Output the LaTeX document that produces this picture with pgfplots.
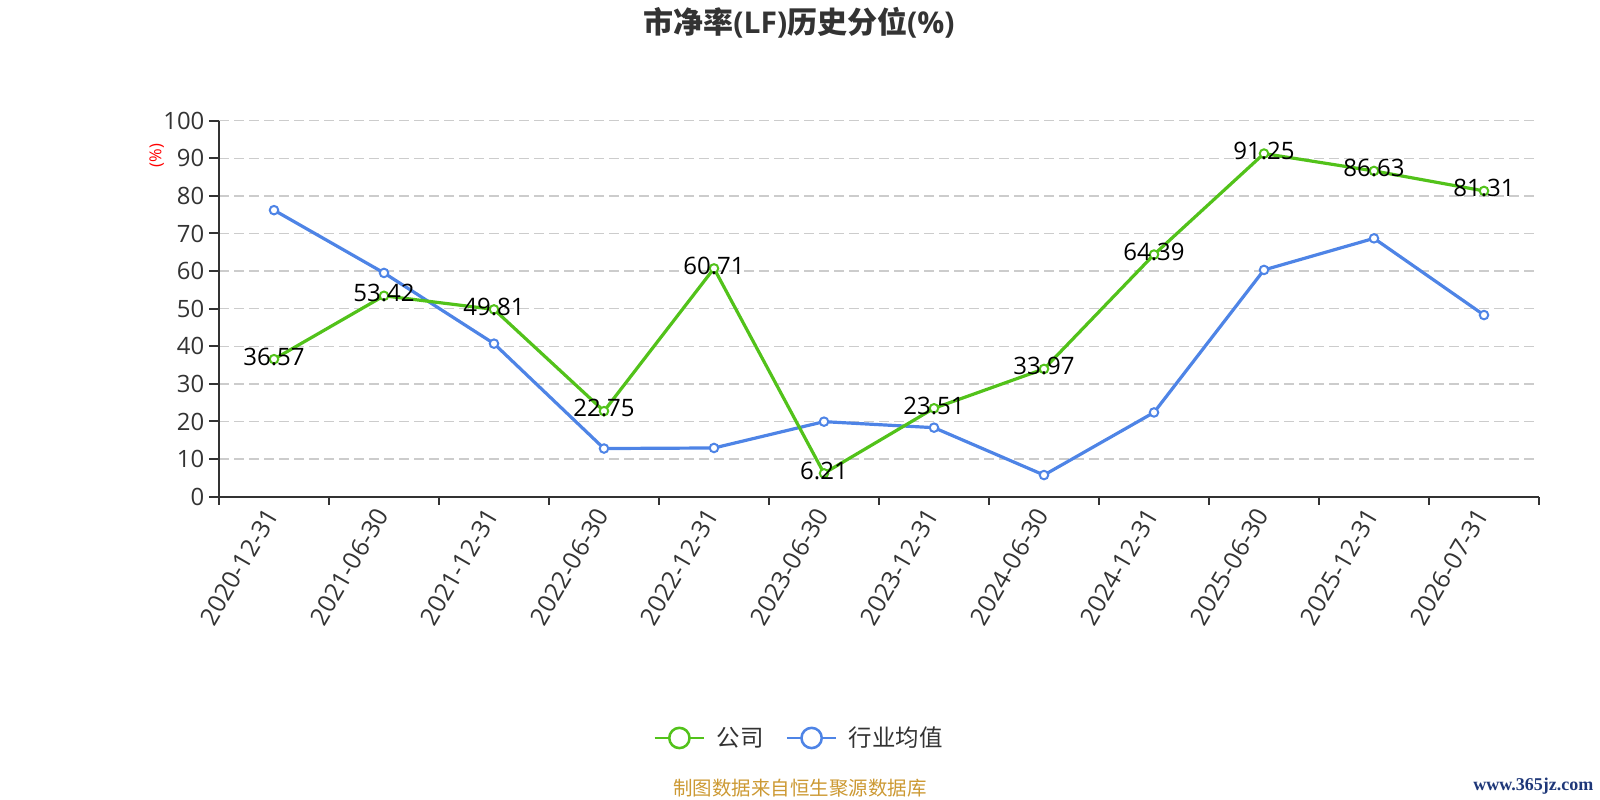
\documentclass[border=0pt]{standalone}
\usepackage{fontspec}
\setmainfont{Open Sans}
\newfontfamily\cjk{Noto Sans CJK SC}
\newfontfamily\wm{Liberation Serif}
\usepackage{pgfplots}
\pgfplotsset{compat=1.18}
\definecolor{cgreen}{RGB}{82,194,26}
\definecolor{cblue}{RGB}{78,132,230}
\definecolor{ctext}{RGB}{51,51,51}
\definecolor{cgrid}{RGB}{204,204,204}
\definecolor{csrc}{RGB}{204,153,51}
\definecolor{cwm}{RGB}{30,55,120}
\begin{document}
\begin{tikzpicture}
\useasboundingbox (0pt,0pt) rectangle (1200pt,600pt);
\begin{axis}[
  at={(164.25pt,227.5pt)}, anchor=south west,
  scale only axis, width=990pt, height=282pt,
  xmin=-0.5, xmax=11.5, ymin=0, ymax=100,
  clip=false,
  axis x line=bottom, axis y line=left,
  axis line style={-, line width=1.5pt, ctext},
  tick align=outside,
  xtick={0,...,11},
  xticklabels={2020-12-31,2021-06-30,2021-12-31,2022-06-30,2022-12-31,2023-06-30,2023-12-31,2024-06-30,2024-12-31,2025-06-30,2025-12-31,2026-07-31},
  major x tick style={draw=none},
  minor xtick={-0.5,0.5,...,11.5},
  minor x tick style={line width=1.5pt, ctext},
  minor tick length=6pt,
  ytick={0,10,...,100},
  major y tick style={line width=1.5pt, ctext},
  major tick length=7.5pt,
  ymajorgrids,
  major grid style={cgrid, dash pattern=on 7.5pt off 3.75pt, line width=1.1pt},
  /pgf/number format/assume math mode=true,
  yticklabel style={font=\fontsize{17.9}{18}\selectfont, text=ctext},
  xticklabel style={font=\fontsize{18.6}{19}\selectfont, text=ctext, rotate=60, anchor=east},
  ylabel={(\%)},
  ylabel style={at={(rel axis cs:-0.0472,0.907)}, anchor=center, font=\fontsize{12.4}{13}\selectfont, text=red},
  legend style={at={(rel axis cs:0.3288,-0.6418)}, anchor=west, draw=none, fill=none, inner sep=0pt,
     font=\cjk\fontsize{17.6}{18}\selectfont, text=ctext,
     /tikz/every odd column/.append style={column sep=8.25pt},
     /tikz/every even column/.append style={column sep=16.5pt},
     nodes={inner sep=0pt}},
  legend columns=-1,
]
\addlegendimage{legend image code/.code={\draw[cgreen,line width=2.2pt] (0pt,0pt) -- (37pt,0pt); \draw[cgreen,line width=1.9pt,fill=white] (18.5pt,0pt) circle (7.6pt);}}
\addlegendentry{公司}
\addlegendimage{legend image code/.code={\draw[cblue,line width=2.2pt] (0pt,0pt) -- (37pt,0pt); \draw[cblue,line width=1.9pt,fill=white] (18.5pt,0pt) circle (7.6pt);}}
\addlegendentry{行业均值}
\addplot[forget plot, cblue, line width=2.4pt, mark=*, mark size=3.2pt, mark options={fill=white, line width=1.5pt}]
coordinates {(0,76.2) (1,59.5) (2,40.7) (3,12.8) (4,12.95) (5,19.95) (6,18.35) (7,5.75) (8,22.4) (9,60.3) (10,68.7) (11,48.3)};
\addplot[forget plot, cgreen, line width=2.4pt, mark=*, mark size=3.2pt, mark options={fill=white, line width=1.5pt},
  point meta=explicit symbolic, nodes near coords,
  every node near coord/.append style={anchor=center, yshift=2pt, text=black, font=\fontsize{18}{18}\selectfont}]
coordinates {(0,36.57) [36.57] (1,53.42) [53.42] (2,49.81) [49.81] (3,22.75) [22.75] (4,60.71) [60.71] (5,6.21) [6.21] (6,23.51) [23.51] (7,33.97) [33.97] (8,64.39) [64.39] (9,91.25) [91.25] (10,86.63) [86.63] (11,81.31) [81.31]};
\end{axis}
\node[font=\bfseries\fontsize{22.5}{24}\selectfont, text=ctext] at (599.25pt,583.1pt) {{\cjk 市净率}(LF){\cjk 历史分位}(\%)};
\node[font=\cjk\fontsize{14.6}{15}\selectfont, text=csrc] at (600pt,9pt) {制图数据来自恒生聚源数据库};
\node[font=\wm\bfseries\fontsize{13.5}{14}\selectfont, text=cwm, anchor=east] at (1198.5pt,10.5pt) {www.365jz.com};
\end{tikzpicture}
\end{document}
